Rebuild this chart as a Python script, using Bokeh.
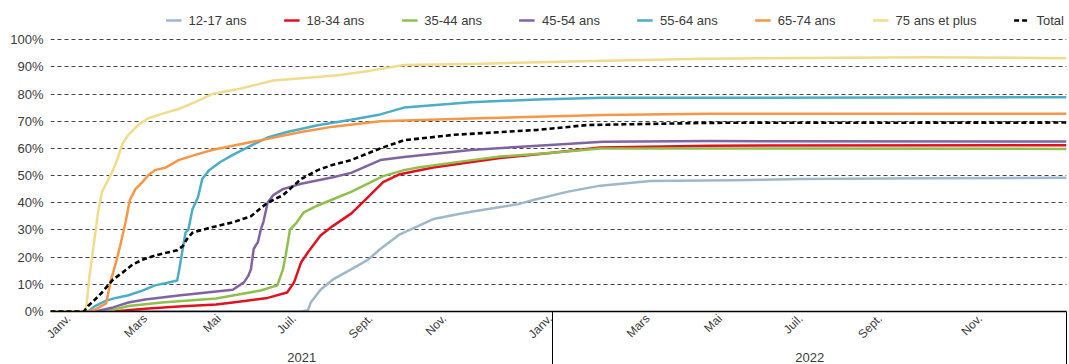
import math
from bokeh.plotting import figure
from bokeh.models import (Range1d, FixedTicker, LinearAxis, Legend, LegendItem,
                          PrintfTickFormatter)
from bokeh.embed import file_html
from bokeh.resources import INLINE

FONT = "Liberation Sans"

# x = days since 1 Jan 2021, y = % vaccinated
x_1217 = [0, 180, 185, 187, 194, 203, 216, 228, 237, 251, 275, 300, 336, 347, 371, 395, 431, 491, 539, 630, 730]
y_1217 = [0, 0, 0.5, 3.3, 8, 11.8, 15.5, 19, 23, 28.4, 34, 36.5, 39.5, 41, 44, 46.3, 48, 48.3, 48.7, 49, 49.2]

x_1834 = [0, 45, 68, 92, 119, 131, 156, 170, 175, 180, 185, 194, 203, 216, 228, 239, 251, 275, 323, 359, 395, 474, 730]
y_1834 = [0, 0, 1, 1.8, 2.6, 3.3, 5, 7, 10.7, 18, 21.8, 28, 31.5, 36, 42, 47.6, 50.5, 53, 56.5, 58.3, 60.3, 61, 61.2]

x_3544 = [0, 40, 56, 80, 119, 131, 151, 163, 167, 169, 172, 177, 182, 192, 203, 216, 239, 254, 264, 300, 323, 359, 395, 474, 730]
y_3544 = [0, 0, 2, 3.3, 4.8, 5.9, 7.7, 9.6, 15.5, 20.6, 30, 32.8, 36.5, 39, 41.3, 44, 49.8, 52, 53, 55.5, 57, 58.3, 60, 60, 59.8]

x_4554 = [0, 32, 45, 56, 68, 92, 119, 131, 139, 142, 144, 146, 149, 151, 153, 156, 160, 167, 180, 203, 216, 237, 254, 302, 350, 397, 474, 730]
y_4554 = [0, 0, 1.5, 3.3, 4.4, 5.9, 7.4, 8, 10.7, 13, 15.5, 23, 25.5, 30, 33, 40, 42.8, 45, 47, 49.4, 51, 55.7, 56.8, 59.4, 61, 62.4, 62.7, 62.5]

x_5564 = [0, 27, 32, 40, 47, 56, 66, 75, 85, 91, 92, 95, 97, 99, 102, 106, 109, 114, 122, 131, 144, 156, 170, 192, 216, 237, 254, 302, 350, 397, 474, 730]
y_5564 = [0, 0, 2, 4, 5, 6, 7.7, 9.6, 10.7, 11.4, 14, 23, 29, 30, 37.6, 42, 48.7, 52, 55, 57.6, 61, 64, 66, 68.5, 70.5, 72.5, 75, 77, 78, 78.6, 78.6, 78.8]

x_6574 = [0, 27, 32, 40, 43, 47, 50, 54, 57, 61, 66, 70, 75, 83, 92, 104, 116, 131, 156, 180, 203, 237, 302, 397, 474, 730]
y_6574 = [0, 0, 0.7, 3, 10.7, 18, 24, 33, 41, 45, 47.6, 50, 52, 53, 55.7, 57.6, 59.4, 61, 63.5, 66, 68, 70, 71, 72.3, 72.7, 72.7]

x_75 = [0, 25, 26, 28, 32, 34, 37, 41, 45, 48, 52, 56, 63, 70, 80, 92, 104, 116, 137, 160, 185, 208, 230, 254, 302, 374, 469, 630, 730]
y_75 = [0, 0, 3, 13, 28, 36, 44, 48, 52, 56, 62, 65, 68.6, 71, 72.7, 74.5, 77, 80, 82, 85, 86, 87, 88.6, 90.7, 91, 92, 93, 93.5, 93.2]

x_total = [0, 24, 27, 32, 37, 42, 45, 52, 59, 66, 75, 85, 91, 95, 98, 102, 109, 116, 131, 144, 151, 156, 167, 180, 192, 203, 216, 237, 254, 290, 350, 386, 474, 730]
y_total = [0, 0, 2, 4.4, 7, 10, 11.8, 14.4, 17.3, 19, 20.6, 21.8, 22.5, 24, 26.6, 29, 30, 31, 32.8, 35, 38, 40, 42.8, 48.7, 52, 54, 55.7, 60, 63, 65, 66.8, 68.6, 69.4, 69.5]

labels = ["12-17 ans", "18-34 ans", "35-44 ans", "45-54 ans",
          "55-64 ans", "65-74 ans", "75 ans et plus", "Total"]
colors = ["#9fb7cb", "#e3111f", "#8fbf4d", "#8064a2",
          "#4aaec8", "#f79646", "#f3db8c", "#000000"]

month_ticks = [13, 68, 121, 175, 230, 283, 359, 429, 481, 539, 596, 668]
month_labels = ["Janv.", "Mars", "Mai", "Juil.", "Sept.", "Nov.",
                "Janv.", "Mars", "Mai", "Juil.", "Sept.", "Nov."]
year_ticks = [180.5, 545.5]
year_labels = ["2021", "2022"]
year_bounds = [361, 730]
y_ticks = list(range(0, 101, 10))

p = figure(width=1069, height=364, output_backend="svg", toolbar_location=None,
           x_range=Range1d(0, 730), y_range=Range1d(0, 114.4),
           x_axis_type=None, min_border_left=50, min_border_right=3,
           min_border_top=0, min_border_bottom=0)
p.outline_line_color = None
p.background_fill_color = "white"

yax = p.yaxis[0]
yax.ticker = FixedTicker(ticks=y_ticks)
yax.formatter = PrintfTickFormatter(format="%d%%")
yax.axis_line_color = None
yax.major_tick_line_color = None
yax.minor_tick_line_color = None
yax.major_tick_out = 0
yax.major_tick_in = 0
yax.major_label_text_font = FONT
yax.major_label_text_font_size = "13px"
yax.major_label_text_color = "#3a3a3a"
yax.major_label_standoff = 7

p.ygrid.ticker = FixedTicker(ticks=y_ticks[1:])
p.ygrid.grid_line_color = "#444444"
p.ygrid.grid_line_dash = "4 3"
p.ygrid.grid_line_width = 1

xs = [x_1217, x_1834, x_3544, x_4554, x_5564, x_6574, x_75, x_total]
ys = [y_1217, y_1834, y_3544, y_4554, y_5564, y_6574, y_75, y_total]

renderers = []
for i, (xx, yy) in enumerate(zip(xs, ys)):
    if labels[i] == "Total":
        r = p.line(xx, yy, line_color=colors[i], line_width=2.6, line_dash="5 3")
    else:
        r = p.line(xx, yy, line_color=colors[i], line_width=2.5, line_join="round")
    renderers.append(r)

month_axis = LinearAxis(ticker=FixedTicker(ticks=month_ticks),
                        major_label_overrides={t: l for t, l in zip(month_ticks, month_labels)},
                        major_label_orientation=math.pi / 4,
                        axis_line_color="black", axis_line_width=1.5,
                        major_tick_line_color=None, major_tick_out=0, major_tick_in=0,
                        minor_tick_line_color=None, minor_tick_out=0, minor_tick_in=0,
                        major_label_standoff=5,
                        major_label_text_font=FONT, major_label_text_font_size="12px",
                        major_label_text_color="#3a3a3a")
p.add_layout(month_axis, "below")

year_axis = LinearAxis(ticker=FixedTicker(ticks=year_ticks),
                       major_label_overrides={t: l for t, l in zip(year_ticks, year_labels)},
                       axis_line_color=None, major_tick_line_color=None,
                       major_tick_out=0, major_tick_in=0,
                       minor_tick_line_color=None, minor_tick_out=0, minor_tick_in=0,
                       major_label_standoff=3,
                       major_label_text_font=FONT, major_label_text_font_size="13px",
                       major_label_text_color="#3a3a3a")
p.add_layout(year_axis, "below")

# separator axis: only inward minor ticks that reach up to the 0% line
sep_axis = LinearAxis(ticker=FixedTicker(ticks=[], minor_ticks=year_bounds),
                      axis_line_color=None, major_tick_line_color=None,
                      major_tick_out=0, major_tick_in=0,
                      minor_tick_line_color="black", minor_tick_line_width=1,
                      minor_tick_out=0, minor_tick_in=53,
                      major_label_standoff=1, major_label_text_font_size="0px")
p.add_layout(sep_axis, "below")

legend = Legend(items=[LegendItem(label=l, renderers=[r]) for l, r in zip(labels, renderers)],
                orientation="horizontal", location="top_right",
                border_line_color=None, background_fill_alpha=0,
                label_text_font=FONT, label_text_font_size="13px",
                label_text_color="#3a3a3a",
                glyph_width=16, glyph_height=36, label_height=36, label_standoff=7,
                spacing=37, padding=0, margin=2)
p.add_layout(legend)

open("out.html", "w").write(file_html(p, INLINE))
